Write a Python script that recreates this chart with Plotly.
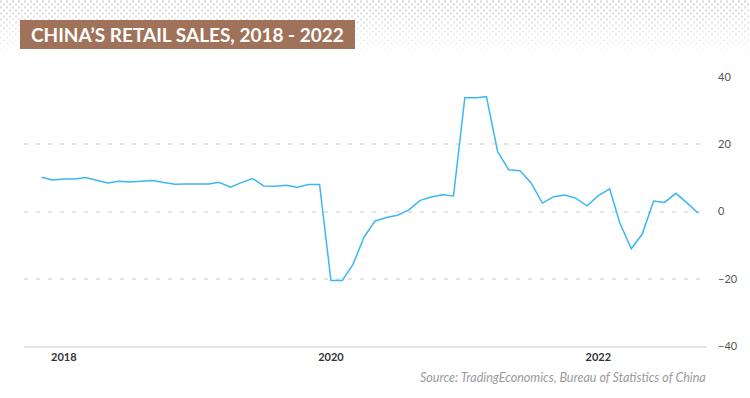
import plotly.graph_objects as go

# Monthly data, Nov 2017 - Oct 2022 (YoY %)
months = [
    "2017-11", "2017-12",
    "2018-01", "2018-02", "2018-03", "2018-04", "2018-05", "2018-06",
    "2018-07", "2018-08", "2018-09", "2018-10", "2018-11", "2018-12",
    "2019-01", "2019-02", "2019-03", "2019-04", "2019-05", "2019-06",
    "2019-07", "2019-08", "2019-09", "2019-10", "2019-11", "2019-12",
    "2020-01", "2020-02", "2020-03", "2020-04", "2020-05", "2020-06",
    "2020-07", "2020-08", "2020-09", "2020-10", "2020-11", "2020-12",
    "2021-01", "2021-02", "2021-03", "2021-04", "2021-05", "2021-06",
    "2021-07", "2021-08", "2021-09", "2021-10", "2021-11", "2021-12",
    "2022-01", "2022-02", "2022-03", "2022-04", "2022-05", "2022-06",
    "2022-07", "2022-08", "2022-09", "2022-10",
]
retail_sales = [
    10.2, 9.4,
    9.7, 9.7, 10.1, 9.4, 8.5, 9.0,
    8.8, 9.0, 9.2, 8.6, 8.1, 8.2,
    8.2, 8.2, 8.7, 7.2, 8.6, 9.8,
    7.6, 7.5, 7.8, 7.2, 8.0, 8.0,
    -20.5, -20.5, -15.8, -7.5, -2.8, -1.8,
    -1.1, 0.5, 3.3, 4.3, 5.0, 4.6,
    33.8, 33.8, 34.2, 17.7, 12.4, 12.1,
    8.5, 2.5, 4.4, 4.9, 3.9, 1.7,
    4.7, 6.7, -3.5, -11.1, -6.7, 3.1,
    2.7, 5.4, 2.5, -0.5,
]
x_tick_values = ["2018-01-01", "2020-01-01", "2022-01-01"]
x_tick_labels = ["2018", "2020", "2022"]
y_tick_values = [-40, -20, 0, 20, 40]

title_text = "CHINA\u2019S RETAIL SALES, 2018 - 2022"
source_text = "Source: TradingEconomics, Bureau of Statistics of China"

W, H = 750, 398
left, right_px, top, bottom = 24, 707, 77, 346

# Decorative halftone dots in the header (pixel coordinates on an overlay axis)
dot_x, dot_y, dot_op = [], [], []
for k in range(19):
    yy = 1.5 + 3 * k
    op = max(0.0, 0.85 * (1.0 - yy / 58.0))
    for j in range(126):
        dot_x.append(6 * j + (k % 2) * 3 + 1)
        dot_y.append(yy)
        dot_op.append(op)

fig = go.Figure()
fig.add_trace(go.Scatter(
    x=dot_x, y=dot_y, xaxis="x2", yaxis="y2",
    mode="markers",
    marker=dict(symbol="square", size=2, color="#cdcdcd", opacity=dot_op, line=dict(width=0)),
    hoverinfo="skip", showlegend=False,
))
fig.add_trace(go.Scatter(
    x=[m + "-01" for m in months],
    y=retail_sales,
    mode="lines",
    line=dict(color="#3cb7f2", width=1.5),
    hoverinfo="x+y",
    showlegend=False,
))

fig.update_layout(
    width=W, height=H,
    margin=dict(l=0, r=0, t=0, b=0, pad=0),
    paper_bgcolor="white",
    plot_bgcolor="rgba(0,0,0,0)",
    font=dict(family="Lato, sans-serif", color="#444"),
    xaxis=dict(
        domain=[left / W, right_px / W],
        anchor="y",
        type="date",
        range=["2017-09-14", "2022-10-25"],
        tickvals=x_tick_values,
        ticktext=x_tick_labels,
        showgrid=False,
        zeroline=False,
        showline=True,
        linecolor="#e6e6e6",
        linewidth=1.5,
        ticks="",
        ticklabelstandoff=0,
        automargin=False,
        tickfont=dict(family="Lato, sans-serif", size=11, color="#333", weight="bold"),
    ),
    yaxis=dict(
        domain=[1 - bottom / H, 1 - top / H],
        anchor="x",
        range=[-40, 40],
        tickvals=y_tick_values,
        side="right",
        showgrid=True,
        gridcolor="#e4e4e4",
        gridwidth=1.5,
        griddash="4px,8px",
        zeroline=False,
        showline=False,
        ticks="",
        ticklabelstandoff=10,
        automargin=False,
        tickfont=dict(family="Lato, sans-serif", size=11, color="#555"),
    ),
    xaxis2=dict(domain=[0, 1], range=[0, W], anchor="y2", visible=False, fixedrange=True),
    yaxis2=dict(domain=[0, 1], range=[H, 0], anchor="x2", visible=False, fixedrange=True),
    shapes=[dict(
        type="rect", xref="paper", yref="paper",
        x0=20 / W, x1=355 / W,
        y0=1 - 49 / H, y1=1 - 20 / H,
        fillcolor="#a1725a", line=dict(width=0), layer="above",
    )],
    annotations=[
        dict(
            text=title_text, xref="paper", yref="paper",
            x=187.5 / W, y=1 - 34.5 / H,
            xanchor="center", yanchor="middle", showarrow=False,
            font=dict(family="Lato, sans-serif", size=19, color="white", weight="bold"),
        ),
        dict(
            text="<i>" + source_text + "</i>", xref="paper", yref="paper",
            x=right_px / W + 0.0015, y=1 - 377 / H,
            xanchor="right", yanchor="middle", showarrow=False,
            font=dict(family="Lato, sans-serif", size=12.5, color="#9a9a9a"),
        ),
    ],
)

html = fig.to_html(full_html=True, include_plotlyjs=True, config={"displayModeBar": False})
html = html.replace("<body>", '<body style="margin:0;overflow:hidden">', 1)
with open("out.html", "w", encoding="utf-8") as f:
    f.write(html)
